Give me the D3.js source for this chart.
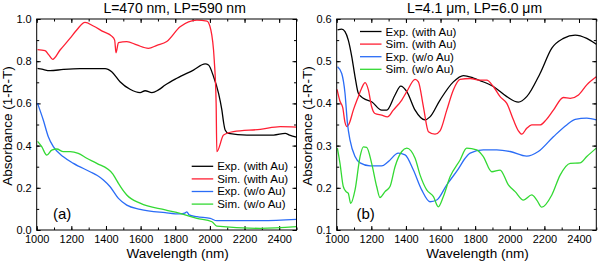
<!DOCTYPE html>
<html>
<head>
<meta charset="utf-8">
<script src="https://cdn.jsdelivr.net/npm/d3@7"></script>
<style>
  html, body { margin: 0; padding: 0; background: #fff; }
  svg { display: block; font-family: "Liberation Sans", Arial, sans-serif; }
</style>
</head>
<body>
<div id="chart"></div>
<script>
// ---- data: [wavelength (nm), absorbance] ----

// panel (a) L=470 nm, LP=590 nm
const expAuA = [[1005,0.766],[1030,0.762],[1077,0.755],[1154,0.761],[1250,0.765],[1395,0.765],[1433,0.75],[1481,0.703],[1539,0.667],[1597,0.651],[1626,0.66],[1665,0.651],[1703,0.664],[1742,0.687],[1809,0.719],[1905,0.758],[1973,0.787],[1992,0.782],[2021,0.727],[2050,0.648],[2069,0.569],[2079,0.51],[2088,0.474],[2107,0.458],[2214,0.45],[2368,0.45],[2435,0.458],[2460,0.45],[2500,0.44]];
const simAuA = [[1005,0.855],[1048,0.85],[1070,0.83],[1092,0.809],[1135,0.853],[1192,0.908],[1231,0.948],[1279,0.984],[1327,0.967],[1385,0.94],[1433,0.919],[1450,0.9],[1458,0.84],[1472,0.888],[1520,0.893],[1578,0.877],[1645,0.861],[1694,0.875],[1751,0.893],[1828,0.963],[1925,0.995],[1983,0.99],[2005,0.95],[2025,0.806],[2036,0.6],[2040,0.371],[2079,0.45],[2136,0.466],[2291,0.477],[2406,0.49],[2500,0.488]];
const expNoAuA = [[1005,0.6],[1038,0.521],[1067,0.442],[1096,0.395],[1154,0.347],[1212,0.316],[1308,0.276],[1350,0.258],[1385,0.237],[1424,0.205],[1472,0.15],[1520,0.118],[1597,0.098],[1742,0.082],[1827,0.076],[1855,0.08],[1867,0.086],[1880,0.072],[1925,0.063],[2002,0.055],[2040,0.044],[2300,0.044],[2500,0.05]];
const simNoAuA = [[1005,0.42],[1029,0.395],[1058,0.355],[1087,0.379],[1116,0.384],[1154,0.371],[1193,0.371],[1240,0.363],[1289,0.34],[1347,0.316],[1440,0.265],[1455,0.245],[1472,0.221],[1520,0.166],[1597,0.127],[1742,0.095],[1827,0.079],[1925,0.055],[2012,0.039],[2040,0.018],[2291,0.008],[2500,0.016]];

// panel (b) L=4.1 um, LP=6.0 um
const expAuB = [[1005,0.574],[1029,0.576],[1048,0.57],[1067,0.55],[1087,0.511],[1106,0.463],[1125,0.424],[1154,0.412],[1202,0.404],[1260,0.384],[1289,0.384],[1337,0.42],[1370,0.441],[1405,0.428],[1453,0.384],[1510,0.361],[1539,0.368],[1597,0.408],[1674,0.451],[1732,0.466],[1790,0.46],[1828,0.454],[1905,0.44],[1983,0.416],[2050,0.403],[2098,0.416],[2175,0.471],[2243,0.531],[2310,0.554],[2378,0.562],[2445,0.554],[2500,0.54]];
const simAuB = [[1002,0.433],[1019,0.405],[1035,0.39],[1048,0.355],[1060,0.345],[1072,0.352],[1096,0.384],[1125,0.416],[1144,0.436],[1164,0.449],[1183,0.432],[1202,0.392],[1221,0.376],[1260,0.372],[1293,0.368],[1327,0.384],[1376,0.408],[1405,0.428],[1453,0.457],[1472,0.451],[1501,0.392],[1530,0.333],[1568,0.327],[1597,0.335],[1636,0.384],[1674,0.432],[1713,0.457],[1771,0.459],[1828,0.455],[1867,0.455],[1905,0.44],[1944,0.416],[1983,0.4],[2021,0.361],[2050,0.335],[2069,0.327],[2098,0.341],[2127,0.349],[2175,0.349],[2210,0.361],[2252,0.384],[2310,0.414],[2349,0.412],[2397,0.42],[2445,0.444],[2500,0.463]];
const expNoAuB = [[1005,0.487],[1029,0.471],[1048,0.424],[1062,0.353],[1077,0.313],[1106,0.274],[1135,0.259],[1193,0.252],[1260,0.252],[1298,0.262],[1356,0.282],[1395,0.278],[1443,0.242],[1491,0.195],[1539,0.167],[1578,0.171],[1636,0.207],[1703,0.245],[1742,0.27],[1771,0.282],[1847,0.29],[1925,0.29],[2002,0.286],[2098,0.275],[2165,0.286],[2252,0.321],[2329,0.349],[2378,0.362],[2445,0.365],[2500,0.361]];
const simNoAuB = [[1004,0.294],[1019,0.258],[1038,0.203],[1054,0.191],[1067,0.187],[1081,0.163],[1106,0.195],[1135,0.274],[1154,0.297],[1173,0.296],[1202,0.258],[1231,0.203],[1250,0.177],[1279,0.191],[1308,0.203],[1337,0.25],[1376,0.286],[1405,0.294],[1453,0.27],[1482,0.23],[1520,0.195],[1559,0.179],[1587,0.155],[1616,0.179],[1655,0.226],[1713,0.266],[1751,0.294],[1809,0.29],[1847,0.274],[1896,0.238],[1944,0.242],[1992,0.207],[2031,0.191],[2079,0.171],[2127,0.183],[2156,0.171],[2185,0.154],[2243,0.183],[2291,0.23],[2349,0.258],[2406,0.259],[2445,0.274],[2500,0.294]];

const legendLabels = ['Exp. (with Au)', 'Sim. (with Au)', 'Exp. (w/o Au)', 'Sim. (w/o Au)'];
const colors = ['#000000', '#ff1f33', '#2a6cf6', '#33d933'];
const xTicks = [1000, 1200, 1400, 1600, 1800, 2000, 2200, 2400];

const W = 600, H = 262;

const svg = d3.select('#chart').append('svg')
    .attr('width', W)
    .attr('height', H);

function drawPanel(opt) {
    const x = d3.scaleLinear().domain([1000, 2500]).range([opt.left, opt.right]);
    const y = d3.scaleLinear().domain(opt.yDomain).range([230, 19]);
    const g = svg.append('g');

    // minor ticks every 100 nm / half step, majors carry the labels
    const minorX = d3.range(1000, 2501, 100);
    const minorY = d3.range(opt.yDomain[0], opt.yDomain[1] + 1e-9, opt.yMinor);
    const majorY = d3.range(opt.yDomain[0], opt.yDomain[1] + 1e-9, opt.yMajor);

    const axes = [
        {a: d3.axisBottom(x), t: `translate(0,${y.range()[0]})`, minor: minorX, major: xTicks, label: true, pad: 5.5, isY: false},
        {a: d3.axisTop(x), t: `translate(0,${y.range()[1]})`, minor: minorX, major: xTicks, label: false, pad: 3, isY: false},
        {a: d3.axisLeft(y), t: `translate(${opt.left},0)`, minor: minorY, major: majorY, label: true, pad: 5, isY: true},
        {a: d3.axisRight(y), t: `translate(${opt.right},0)`, minor: minorY, major: majorY, label: false, pad: 3, isY: true}
    ];
    axes.forEach(ax => {
        g.append('g').attr('transform', ax.t)
            .call(ax.a.tickValues(ax.minor).tickSize(-2.5).tickFormat(''))
            .call(s => s.select('.domain').remove());
        const fmt = ax.isY ? d3.format('.1f') : d3.format('d');
        g.append('g').attr('transform', ax.t)
            .call(ax.a.tickValues(ax.major).tickSize(-4).tickPadding(ax.pad)
                .tickFormat(ax.label ? fmt : ''))
            .call(s => s.select('.domain').remove())
            .call(s => s.selectAll('text').attr('font-size', 11).attr('fill', '#000')
                .attr('font-family', '"Liberation Sans", Arial, sans-serif'));
    });

    const line = d3.line()
        .x(d => x(d[0]))
        .y(d => y(d[1]))
        .curve(d3.curveMonotoneX);

    g.selectAll('path.series')
        .data(opt.series)
        .enter()
        .append('path')
        .attr('class', 'series')
        .attr('d', d => line(d))
        .attr('fill', 'none')
        .attr('stroke', (d, i) => colors[i])
        .attr('stroke-width', 1.3);

    // frame
    g.append('rect')
        .attr('x', opt.left).attr('y', 19)
        .attr('width', opt.right - opt.left).attr('height', 211)
        .attr('fill', 'none').attr('stroke', '#000').attr('stroke-width', 1);

    const cx = (opt.left + opt.right) / 2;
    g.append('text')
        .attr('x', cx + 8).attr('y', 13)
        .attr('text-anchor', 'middle').attr('font-size', 14)
        .text(opt.title);

    g.append('text')
        .attr('x', cx + 11).attr('y', 258)
        .attr('text-anchor', 'middle').attr('font-size', 13.5)
        .text('Wavelength (nm)');

    g.append('text')
        .attr('transform', `translate(${opt.left - 25},126) rotate(-90)`)
        .attr('text-anchor', 'middle').attr('font-size', 13.5)
        .text('Absorbance (1-R-T)');

    g.append('text')
        .attr('x', opt.tag[0]).attr('y', opt.tag[1])
        .attr('font-size', 15)
        .text(opt.tagText);

    // legend
    const lg = g.append('g').attr('transform', `translate(${opt.legend[0]},${opt.legend[1]})`);
    legendLabels.forEach((lab, i) => {
        const yy = i * 12.6;
        lg.append('line')
            .attr('x1', 0).attr('x2', 21.5).attr('y1', yy).attr('y2', yy)
            .attr('stroke', colors[i]).attr('stroke-width', 1.3);
        lg.append('text')
            .attr('x', 25.5).attr('y', yy + 4)
            .attr('font-size', 11.5)
            .text(lab);
    });
}

drawPanel({
    left: 36.7, right: 296.5,
    yDomain: [0, 1], yMajor: 0.2, yMinor: 0.1,
    series: [expAuA, simAuA, expNoAuA, simNoAuA],
    title: 'L=470 nm, LP=590 nm',
    tag: [53, 219], tagText: '(a)',
    legend: [191.7, 166.3]
});

drawPanel({
    left: 336.7, right: 596.3,
    yDomain: [0.1, 0.6], yMajor: 0.1, yMinor: 0.05,
    series: [expAuB, simAuB, expNoAuB, simNoAuB],
    title: 'L=4.1 μm, LP=6.0 μm',
    tag: [356.5, 219], tagText: '(b)',
    legend: [360, 31.5]
});
</script>
</body>
</html>
